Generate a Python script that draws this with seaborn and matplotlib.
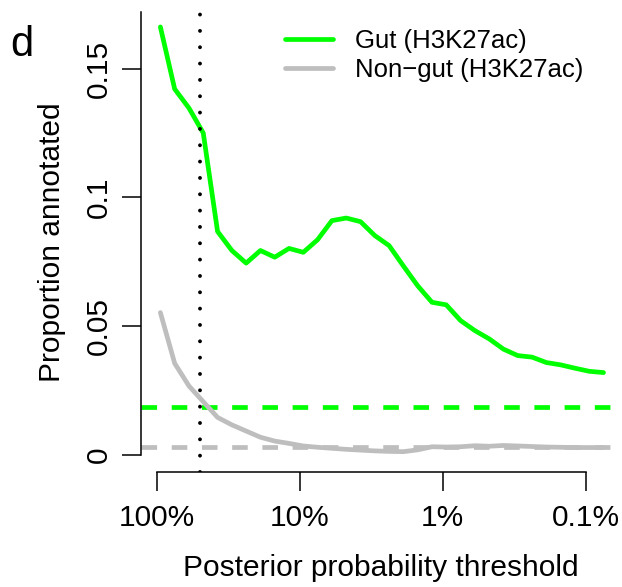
import numpy as np
import pandas as pd
import matplotlib
matplotlib.use("Agg")
import matplotlib.pyplot as plt
import seaborn as sns

# posterior probability thresholds (%)
thresholds = [94.41, 74.99, 59.57, 47.32, 37.58, 29.85, 23.71, 18.84, 14.96, 11.89,
              9.441, 7.499, 5.957, 4.732, 3.758, 2.985, 2.371, 1.884, 1.496, 1.189,
              0.9441, 0.7499, 0.5957, 0.4732, 0.3758, 0.2985, 0.2371, 0.1884, 0.1496,
              0.1189, 0.09441, 0.07499]

gut = [0.1662, 0.1421, 0.1347, 0.1250, 0.0868, 0.0794, 0.0745, 0.0794, 0.0768, 0.0802,
       0.0787, 0.0836, 0.0910, 0.0920, 0.0906, 0.0852, 0.0813, 0.0734, 0.0657, 0.0593,
       0.0583, 0.0522, 0.0483, 0.0451, 0.0411, 0.0386, 0.0380, 0.0359, 0.0350, 0.0337,
       0.0325, 0.0320]

nongut = [0.0553, 0.0356, 0.0268, 0.0207, 0.0146, 0.0117, 0.0093, 0.0069, 0.0054, 0.0045,
          0.0035, 0.0030, 0.0026, 0.0022, 0.0019, 0.0016, 0.0014, 0.0013, 0.0020, 0.0032,
          0.0031, 0.0032, 0.0036, 0.0034, 0.0037, 0.0035, 0.0033, 0.0031, 0.0030, 0.0029,
          0.0029, 0.0029]

baseline_gut = 0.0188
baseline_nongut = 0.0030
cutoff = 50.0  # %

series_names = ["Gut (H3K27ac)", "Non\u2212gut (H3K27ac)"]
colors = {"Gut (H3K27ac)": "#00FF00", "Non\u2212gut (H3K27ac)": "#BEBEBE"}

xticks = [1.0, 0.1, 0.01, 0.001]
xticklabels = ["100%", "10%", "1%", "0.1%"]
yticks = [0, 0.05, 0.1, 0.15]
yticklabels = ["0", "0.05", "0.1", "0.15"]

df = pd.DataFrame({
    "threshold": [t / 100 for t in thresholds] * 2,
    "proportion": gut + nongut,
    "series": [series_names[0]] * len(gut) + [series_names[1]] * len(nongut),
})

sns.set_style("ticks")
plt.rcParams["font.family"] = ["Liberation Sans", "DejaVu Sans"]
for k in ["text.color", "axes.labelcolor", "xtick.color", "ytick.color", "axes.edgecolor"]:
    plt.rcParams[k] = "black"

fig = plt.figure(figsize=(6.22, 5.87), dpi=100)
ax = fig.add_axes([141 / 622, 1 - 472 / 587, (620 - 141) / 622, (472 - 12) / 587])

lw = 3.4
ax.axhline(baseline_gut, color=colors[series_names[0]], lw=lw, dashes=(3.3, 3.1), zorder=1)
ax.axhline(baseline_nongut, color=colors[series_names[1]], lw=lw, dashes=(3.3, 3.1), zorder=1)
ax.axvline(cutoff / 100, color="black", lw=2.8, dashes=(0.001, 4.2),
           dash_capstyle="round", zorder=3)

sns.lineplot(data=df, x="threshold", y="proportion", hue="series",
             palette=colors, hue_order=series_names, linewidth=lw, ax=ax,
             legend=True, zorder=2)

ax.set_xscale("log")
ax.set_xlim(1.29, 0.000575)
ax.set_ylim(-0.0066, 0.172)

ax.set_xticks(xticks)
ax.set_xticklabels(xticklabels)
ax.minorticks_off()
ax.set_yticks(yticks)
ax.set_yticklabels(yticklabels)

ax.tick_params(axis="both", length=14, width=1.1, labelsize=21.5, color="black",
               labelcolor="black")
ax.tick_params(axis="x", pad=9)
ax.tick_params(axis="y", pad=6)
for lab in ax.get_yticklabels():
    lab.set_rotation(90)
    lab.set_va("center")

for s in ["top", "right"]:
    ax.spines[s].set_visible(False)
for s in ["left", "bottom"]:
    ax.spines[s].set_linewidth(1.1)
    ax.spines[s].set_color("black")
ax.spines["left"].set_bounds(0, 0.172)
ax.spines["bottom"].set_bounds(1.0, 0.001)

ax.set_xlabel("Posterior probability threshold", fontsize=21.5, labelpad=16, color="black")
ax.set_ylabel("Proportion annotated", fontsize=21.5, labelpad=14, color="black")

leg = ax.legend(loc="upper right", bbox_to_anchor=(0.955, 0.997), frameon=False,
                fontsize=18.5, handlelength=1.85, handletextpad=0.85, labelspacing=0.22,
                borderaxespad=0.2)
for h in leg.get_lines():
    h.set_linewidth(lw)
for t in leg.get_texts():
    t.set_color("black")

fig.text(10 / 622, 1 - 56 / 587, "d", fontsize=30, color="black")

fig.savefig("out.png", dpi=100)
